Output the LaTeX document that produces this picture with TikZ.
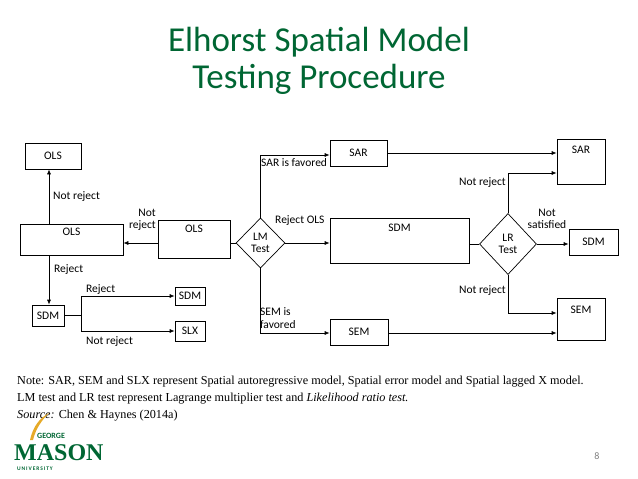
\documentclass[tikz,border=0pt]{standalone}
\usepackage{fontspec}
\setmainfont{Carlito}
\newfontfamily\serifnote{Liberation Serif}
\usetikzlibrary{shapes.geometric,arrows.meta}
\definecolor{gmgreen}{RGB}{0,102,51}
\definecolor{gmgold}{RGB}{230,170,40}
\begin{document}
\begin{tikzpicture}[x=1pt,y=-1pt,
  box/.style={draw,line width=0.7pt,inner sep=0},
  lbl/.style={font=\fontsize{11.5}{12.5}\selectfont,inner sep=1pt},
  arr/.style={line width=0.7pt,-{Latex[length=5pt,width=4pt]}},
  ln/.style={line width=0.7pt}]
\useasboundingbox (0,0) rectangle (638,479);
\node[font=\fontsize{35}{37}\selectfont,text=gmgreen,align=center] (title) at (319,61) {Elhorst Spatial Model\\Testing Procedure};
% boxes
\node[box,minimum width=56,minimum height=26] (ols1) at (53,156) {};
\node[lbl] (ols1t) at (53,156) {OLS};
\node[box,minimum width=103,minimum height=31] (ols2) at (71.5,239.5) {};
\node[lbl] (ols2t) at (71.5,232) {OLS};
\node[box,minimum width=72,minimum height=38] (ols3) at (194,239) {};
\node[lbl] (ols3t) at (194,229) {OLS};
\node[draw,line width=0.7pt,diamond,minimum width=49,minimum height=50,inner sep=0,aspect=1] (lm) at (260.5,243) {};
\node[lbl,align=center] (lmt) at (260.5,243) {LM\\Test};
\node[box,minimum width=32,minimum height=21] (sdm1) at (48,315.5) {};
\node[lbl] (sdm1t) at (48,315.5) {SDM};
\node[box,minimum width=30,minimum height=18] (sdm2) at (190,296) {};
\node[lbl] (sdm2t) at (190,296) {SDM};
\node[box,minimum width=30,minimum height=20] (slx) at (190,331) {};
\node[lbl] (slxt) at (190,331) {SLX};
\node[box,minimum width=57,minimum height=26] (sar1) at (358.5,153) {};
\node[lbl] (sar1t) at (358.5,153) {SAR};
\node[box,minimum width=139,minimum height=45] (sdm3) at (399.5,240.5) {};
\node[lbl] (sdm3t) at (399.5,228) {SDM};
\node[box,minimum width=58,minimum height=26] (sem1) at (359,332) {};
\node[lbl] (sem1t) at (359,332) {SEM};
\node[draw,line width=0.7pt,diamond,minimum width=57,minimum height=61,inner sep=0] (lr) at (508,244) {};
\node[lbl,align=center] (lrt) at (508,244) {LR\\Test};
\node[box,minimum width=48,minimum height=45] (sar2) at (581,161.5) {};
\node[lbl] (sar2t) at (581,150) {SAR};
\node[box,minimum width=49,minimum height=26] (sdm4) at (593.5,242) {};
\node[lbl] (sdm4t) at (593.5,242) {SDM};
\node[box,minimum width=48,minimum height=42] (sem2) at (581,319) {};
\node[lbl] (sem2t) at (581,310) {SEM};
% connectors
\draw[arr] (ols2.north -| 49,0) -- (ols1.south -| 49,0);
\draw[arr] (ols2.south -| 49,0) -- (sdm1.north -| 49,0);
\draw[arr] (ols3.west |- 0,243) -- (ols2.east |- 0,243);
\draw[ln] (ols3.east |- 0,243) -- (lm.west);
\draw[ln] (sdm1.east) -- (81,315.5);
\draw[arr] (81,315.5) |- (sdm2.west);
\draw[arr] (81,315.5) |- (slx.west);
\draw[arr] (lm.north) |- (sar1.west |- 0,155);
\draw[arr] (lm.east) -- (sdm3.west |- lm.east);
\draw[arr] (lm.south) |- (sem1.west |- 0,333);
\draw[arr] (sar1.east |- 0,153) -- (sar2.west |- 0,153);
\draw[arr] (sem1.east |- 0,333) -- (sem2.west |- 0,333);
\draw[ln] (sdm3.east |- lr.west) -- (lr.west);
\draw[arr] (lr.north) |- (sar2.west |- 0,173);
\draw[arr] (lr.east) -- (sdm4.west |- lr.east);
\draw[arr] (lr.south) |- (sem2.west |- 0,313);
% labels
\node[lbl,anchor=west] (l1) at (52,197) {Not reject};
\node[lbl,anchor=west] (l2) at (53,270) {Reject};
\node[lbl,anchor=east,align=right] (l3) at (157,220) {Not\\reject};
\node[lbl,anchor=west] (l4) at (85,290) {Reject};
\node[lbl,anchor=west] (l5) at (85,342) {Not reject};
\node[lbl,anchor=west] (l6) at (260,163) {SAR is favored};
\node[lbl,anchor=west] (l7) at (274,221) {Reject OLS};
\node[lbl,anchor=west,align=left] (l8) at (259,318) {SEM is\\favored};
\node[lbl,anchor=east] (l9) at (507,183) {Not reject};
\node[lbl,align=center] (l10) at (547,219) {Not\\satisfied};
\node[lbl,anchor=east] (l11) at (507,291) {Not reject};
% note
\node[anchor=north west,align=left,font=\serifnote\fontsize{12.2}{17}\selectfont,inner sep=0] (note) at (17,376) {Note: SAR, SEM and SLX represent Spatial autoregressive model, Spatial error model and Spatial lagged X model.\\LM test and LR test represent Lagrange multiplier test and \textit{Likelihood ratio test.}\\\textit{Source:} Chen \& Haynes (2014a)};
% logo
\fill[gmgold] (30,440) .. controls (33,426) and (40,418) .. (49,413) .. controls (42,420) and (36,428) .. (33,440) -- cycle;
\node[anchor=west,text=gmgreen,font=\bfseries\fontsize{8}{8}\selectfont,inner sep=0] (lg1) at (37,436) {GEORGE};
\node[anchor=west,text=gmgreen,font=\serifnote\bfseries\fontsize{24}{24}\selectfont,inner sep=0] (lg2) at (14,453) {MASON};
\node[anchor=west,text=gmgreen,font=\bfseries\fontsize{5.5}{5.5}\selectfont,inner sep=0] (lg3) at (17,469) {U\,N\,I\,V\,E\,R\,S\,I\,T\,Y};
\node[text=gray,font=\fontsize{10}{10}\selectfont] (pg) at (597,456) {8};
\end{tikzpicture}
\end{document}
